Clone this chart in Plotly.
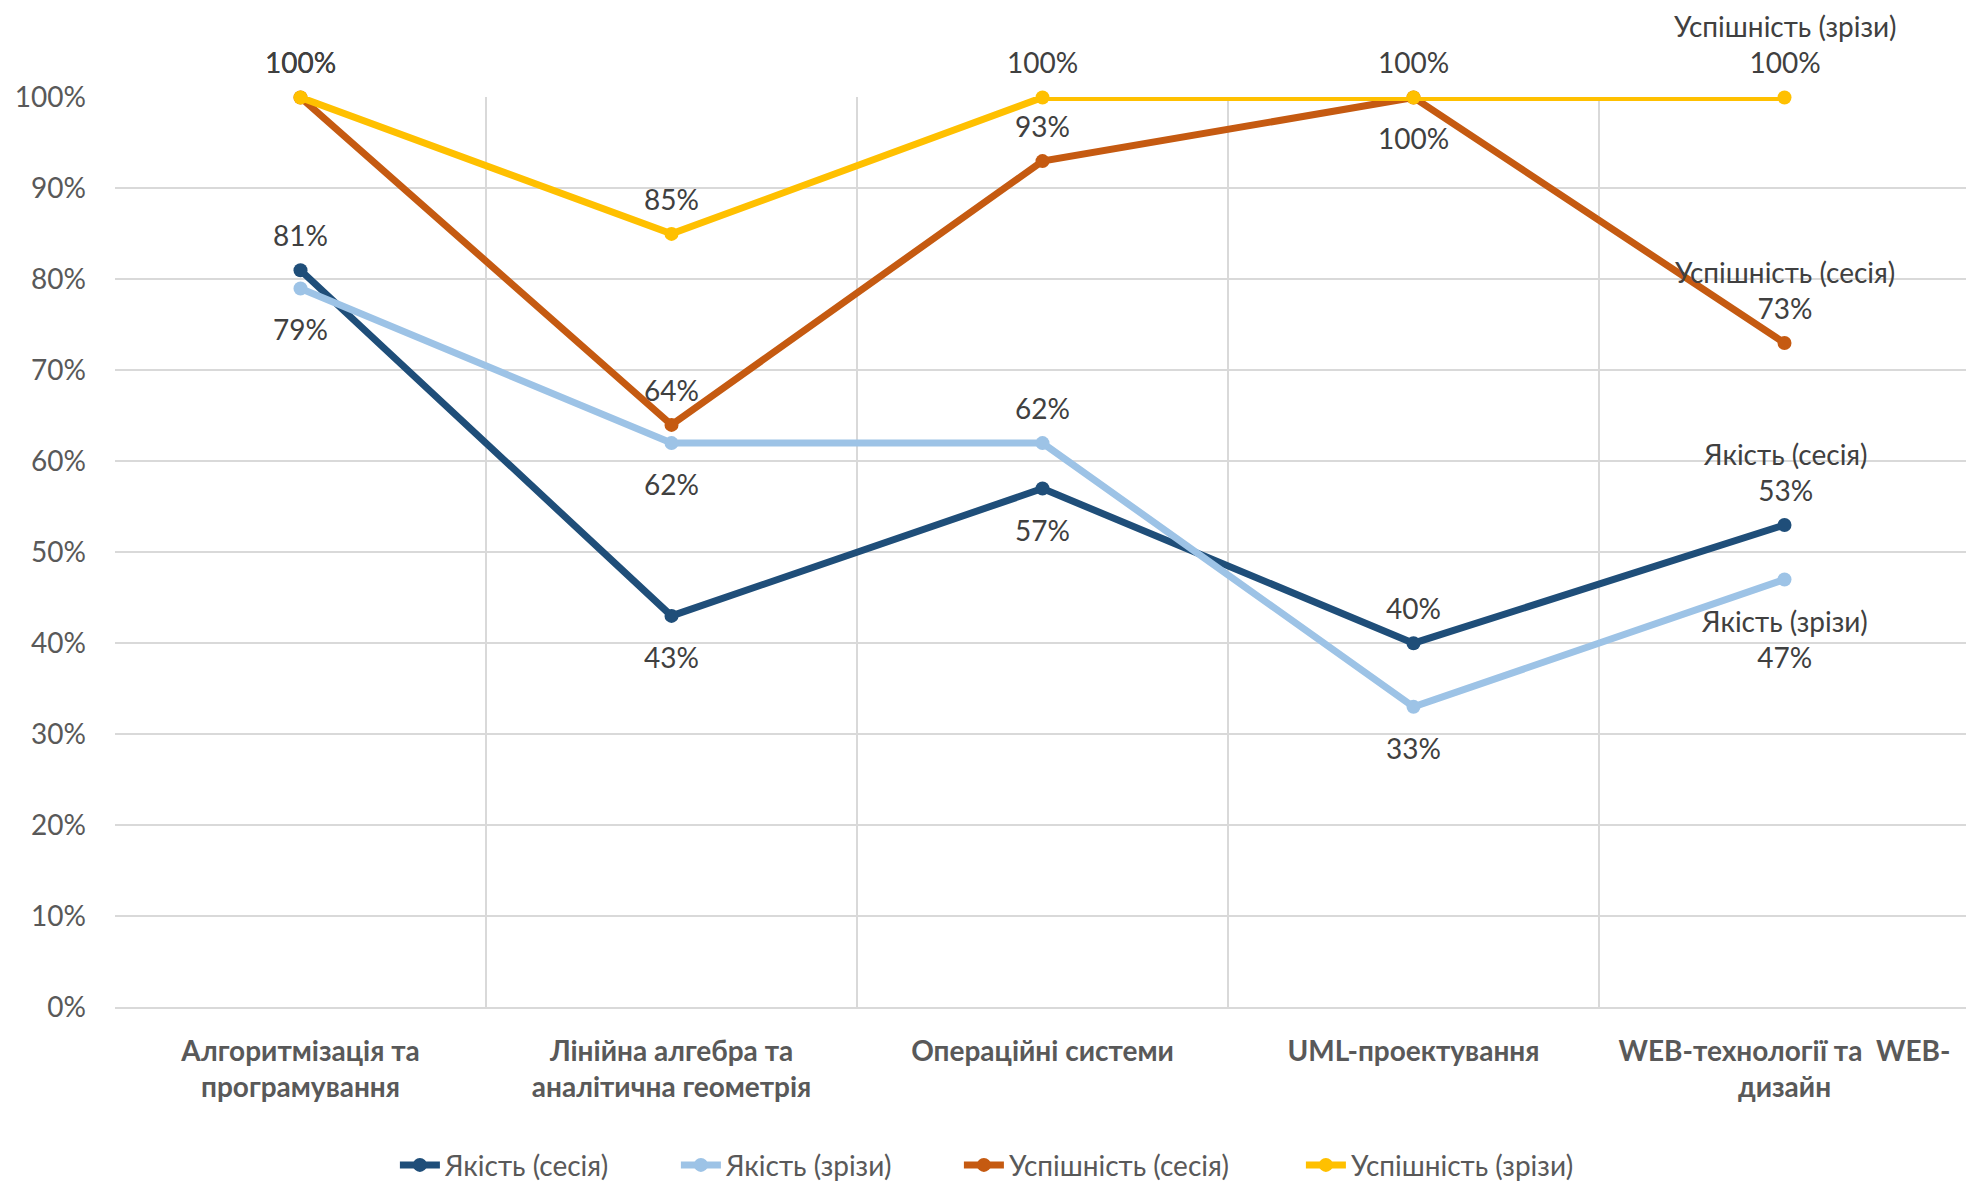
"""
Line chart: quality and success rates by subject (session vs. checkpoint).
"""
import plotly.graph_objects as go

subjects = [
    "Алгоритмізація та<br>програмування",
    "Лінійна алгебра та<br>аналітична геометрія",
    "Операційні системи",
    "UML-проектування",
    "WEB-технології та  WEB-<br>дизайн",
]

series_names = ["Якість (сесія)", "Якість (зрізи)", "Успішність (сесія)", "Успішність (зрізи)"]
quality_session = [0.81, 0.43, 0.57, 0.40, 0.53]
quality_checks = [0.79, 0.62, 0.62, 0.33, 0.47]
success_session = [1.00, 0.64, 0.93, 1.00, 0.73]
success_checks = [1.00, 0.85, 1.00, 1.00, 1.00]

# styling
COLORS = ["#1F4E79", "#9DC3E6", "#C55A11", "#FFC000"]
LEGEND_WIDTHS = [226, 228, 287, 292]
LABEL_SIDE = [
    ["up", "down", "down", "up", "up"],
    ["down", "down", "up", "down", "down"],
    ["up", "up", "up", "down", "up"],
    ["up", "up", "up", "up", "up"],
]
FONT = "Lato, 'Open Sans', sans-serif"
TEXT_COLOR = "#404040"
AXIS_COLOR = "#595959"
GRID_COLOR = "#D9D9D9"

all_values = [quality_session, quality_checks, success_session, success_checks]

fig = go.Figure()

for name, values, color, lw in zip(series_names, all_values, COLORS, LEGEND_WIDTHS):
    fig.add_trace(go.Scatter(
        x=subjects,
        y=values,
        name=name,
        mode="lines+markers",
        line=dict(color=color, width=7),
        marker=dict(color=color, size=14),
        cliponaxis=False,
        legendwidth=lw,
    ))

# data labels, with the series name on the last point
for s, (name, values) in enumerate(zip(series_names, all_values)):
    for i, v in enumerate(values):
        text = f"{v:.0%}"
        last = i == len(values) - 1
        up = LABEL_SIDE[s][i] == "up"
        if last:
            text = f"{name}<br>{text}"
        if up:
            yanchor, yshift = "bottom", 16
        else:
            yanchor, yshift = "top", -22
        fig.add_annotation(
            x=subjects[i], y=v, text=text, showarrow=False,
            yanchor=yanchor, yshift=yshift, xanchor="center",
            font=dict(family=FONT, size=28, color=TEXT_COLOR),
        )

# the page body adds an 8px offset, so margins are trimmed to match
fig.update_layout(
    width=1974,
    height=1182,
    template="plotly_white",
    plot_bgcolor="white",
    paper_bgcolor="white",
    margin=dict(l=107, r=12, t=89, b=183, autoexpand=False),
    font=dict(family=FONT, size=28, color=AXIS_COLOR),
    showlegend=True,
    legend=dict(
        orientation="h",
        xref="container", x=0.196, xanchor="left",
        yref="container", y=0.021, yanchor="middle",
        font=dict(family=FONT, size=28, color=AXIS_COLOR),
        itemwidth=40,
        tracegroupgap=0,
    ),
)

fig.update_xaxes(
    type="category",
    range=[-0.5, 4.5],
    tickson="boundaries",
    showgrid=True,
    gridcolor=GRID_COLOR,
    gridwidth=2,
    showline=True,
    linecolor=GRID_COLOR,
    linewidth=2,
    ticks="",
    automargin=False,
    ticklabelstandoff=18,
    tickfont=dict(family=FONT, size=28, color=AXIS_COLOR, weight="bold"),
)

fig.update_yaxes(
    range=[0, 1.0005],
    dtick=0.1,
    tickformat=".0%",
    showgrid=True,
    gridcolor=GRID_COLOR,
    gridwidth=2,
    zeroline=False,
    showline=False,
    ticks="",
    automargin=False,
    ticklabelstandoff=28,
    tickfont=dict(family=FONT, size=28, color=AXIS_COLOR),
)

fig.write_html("out.html")
